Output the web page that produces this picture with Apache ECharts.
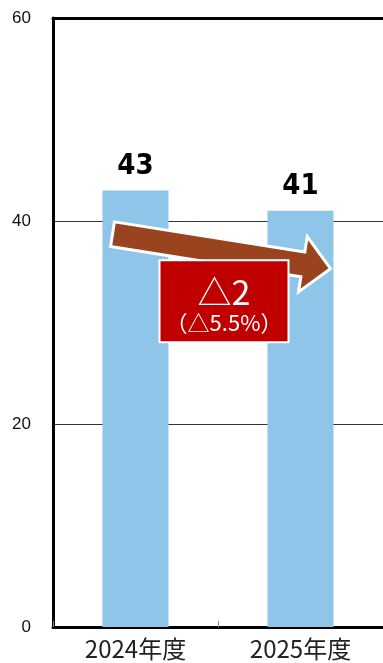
<!DOCTYPE html>
<html>
<head>
<meta charset="utf-8">
<script src="https://cdn.jsdelivr.net/npm/echarts@6/dist/echarts.min.js"></script>
<style>
  html, body { margin: 0; padding: 0; background: #fff; }
  #chart { width: 383px; height: 663px; }
</style>
</head>
<body>
<div id="chart"></div>
<script>
// Fiscal years and their totals
const categories = ['2024年度', '2025年度'];
const values = [43, 41];
const yTicks = [0, 20, 40, 60];

// Change annotation texts
const changeMain = '△2';
const changeSub = '（△5.5%）';

const chart = echarts.init(document.getElementById('chart'));

chart.setOption({
  animation: false,
  grid: { left: 53, top: 18, width: 338, height: 609 },
  xAxis: [
    {
      type: 'category',
      data: categories,
      axisLine: { lineStyle: { color: '#000', width: 3 } },
      axisTick: { show: true, inside: true, length: 6, lineStyle: { color: '#888', width: 1 } },
      axisLabel: { fontSize: 24, color: '#222', margin: 10, fontFamily: 'Noto Sans CJK JP' }
    },
    {
      type: 'category',
      position: 'top',
      data: categories,
      axisLine: { lineStyle: { color: '#000', width: 3 } },
      axisTick: { show: false },
      axisLabel: { show: false }
    }
  ],
  yAxis: {
    type: 'value',
    min: yTicks[0],
    max: yTicks[yTicks.length - 1],
    interval: yTicks[1] - yTicks[0],
    axisLine: { show: true, lineStyle: { color: '#000', width: 3 } },
    axisTick: { show: false },
    splitLine: { lineStyle: { color: '#333', width: 1 } },
    axisLabel: { fontSize: 17, color: '#111', margin: 22, fontFamily: 'Liberation Sans' }
  },
  series: [{
    type: 'bar',
    data: values,
    barWidth: '40%',
    itemStyle: { color: '#8fc5e8' },
    label: {
      show: true,
      position: 'top',
      distance: 10,
      fontSize: 29,
      fontWeight: 'bold',
      color: '#000',
      fontFamily: 'DejaVu Sans Condensed, Liberation Sans Narrow, Liberation Sans'
    }
  }]
});

// Arrow from the first bar to the second, plus the change box
function px(cat, val) {
  return chart.convertToPixel({ xAxisIndex: 0, yAxisIndex: 0 }, [cat, val]);
}

const c0 = px(0, 0), c1 = px(1, 0);
const start = [c0[0] - 23, px(0, 38.7)[1]];
const tip = [c1[0] + 30, px(1, 35.3)[1]];
const dx = tip[0] - start[0], dy = tip[1] - start[1];
const len = Math.sqrt(dx * dx + dy * dy);
const ux = dx / len, uy = dy / len;
const nx = -uy, ny = ux;
const shaftHalf = 12.5, headHalf = 28, headLen = 28;
const base = [tip[0] - ux * headLen, tip[1] - uy * headLen];
const pts = [
  [start[0] + nx * shaftHalf, start[1] + ny * shaftHalf],
  [base[0] + nx * shaftHalf, base[1] + ny * shaftHalf],
  [base[0] + nx * headHalf, base[1] + ny * headHalf],
  tip,
  [base[0] - nx * headHalf, base[1] - ny * headHalf],
  [base[0] - nx * shaftHalf, base[1] - ny * shaftHalf],
  [start[0] - nx * shaftHalf, start[1] - ny * shaftHalf]
];

const boxCenter = [(c0[0] + c1[0]) / 2 + 6, px(0, 32.1)[1]];
const boxW = 129, boxH = 82;

chart.setOption({
  graphic: [
    {
      type: 'polygon',
      z: 10,
      shape: { points: pts },
      style: { fill: '#9a431f', stroke: '#fff', lineWidth: 3, lineJoin: 'miter' }
    },
    {
      type: 'rect',
      z: 11,
      shape: { x: boxCenter[0] - boxW / 2, y: boxCenter[1] - boxH / 2, width: boxW, height: boxH },
      style: { fill: '#c00000', stroke: '#fff', lineWidth: 2 }
    },
    {
      type: 'text',
      z: 12,
      x: boxCenter[0],
      y: boxCenter[1] - 9,
      style: {
        text: changeMain, fill: '#fff', fontSize: 34,
        fontFamily: 'Noto Sans CJK JP', align: 'center', verticalAlign: 'middle'
      }
    },
    {
      type: 'text',
      z: 12,
      x: boxCenter[0],
      y: boxCenter[1] + 21,
      style: {
        text: changeSub, fill: '#fff', fontSize: 22,
        fontFamily: 'Noto Sans CJK JP', align: 'center', verticalAlign: 'middle'
      }
    }
  ]
});
</script>
</body>
</html>
